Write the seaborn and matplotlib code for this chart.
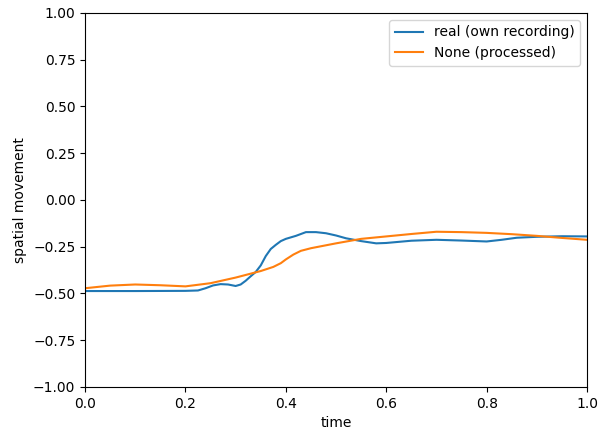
import matplotlib
matplotlib.use("Agg")
import matplotlib.pyplot as plt
import seaborn as sns
import pandas as pd

# recorded movement (own recording)
real_t = [0.0, 0.1, 0.2, 0.225, 0.24, 0.255, 0.27, 0.285, 0.30, 0.31, 0.32, 0.33,
          0.34, 0.35, 0.36, 0.37, 0.38, 0.39, 0.40, 0.42, 0.44, 0.46, 0.48, 0.50,
          0.52, 0.55, 0.58, 0.60, 0.65, 0.70, 0.75, 0.80, 0.83, 0.86, 0.90, 0.95, 1.0]
real_v = [-0.487, -0.487, -0.486, -0.484, -0.472, -0.457, -0.450, -0.452, -0.460,
          -0.452, -0.432, -0.408, -0.385, -0.350, -0.300, -0.262, -0.240, -0.220,
          -0.208, -0.192, -0.172, -0.172, -0.178, -0.190, -0.205, -0.220, -0.232,
          -0.230, -0.218, -0.213, -0.217, -0.222, -0.213, -0.202, -0.197, -0.194,
          -0.195]

# processed movement
proc_t = [0.0, 0.05, 0.1, 0.15, 0.2, 0.25, 0.3, 0.35, 0.375, 0.39, 0.4, 0.415,
          0.43, 0.45, 0.5, 0.55, 0.6, 0.65, 0.7, 0.75, 0.8, 0.85, 0.9, 0.95, 1.0]
proc_v = [-0.472, -0.458, -0.452, -0.456, -0.462, -0.445, -0.415, -0.380, -0.358,
          -0.338, -0.318, -0.292, -0.272, -0.258, -0.232, -0.208, -0.195, -0.182,
          -0.170, -0.172, -0.176, -0.183, -0.192, -0.203, -0.213]

labels = ["real (own recording)", "None (processed)"]

df = pd.concat([
    pd.DataFrame({"time": real_t, "value": real_v, "series": labels[0]}),
    pd.DataFrame({"time": proc_t, "value": proc_v, "series": labels[1]}),
])

fig = plt.figure(figsize=(5.99, 4.30), dpi=100)
ax = fig.add_axes([0.142, 0.100, 0.838, 0.870])
sns.lineplot(data=df, x="time", y="value", hue="series", hue_order=labels,
             palette=["#1f77b4", "#ff7f0e"], linewidth=1.5, ax=ax, sort=True)

ax.set_xlim(0, 1)
ax.set_ylim(-1, 1)
ax.set_xticks([0.0, 0.2, 0.4, 0.6, 0.8, 1.0])
ax.set_yticks([-1.0, -0.75, -0.5, -0.25, 0.0, 0.25, 0.5, 0.75, 1.0])
ax.set_yticklabels(["\u22121.00", "\u22120.75", "\u22120.50", "\u22120.25", "0.00",
                    "0.25", "0.50", "0.75", "1.00"])
ax.set_xlabel("time")
ax.set_ylabel("spatial movement")
ax.legend(loc="upper right", title=None)

fig.savefig("out.png", dpi=100)
